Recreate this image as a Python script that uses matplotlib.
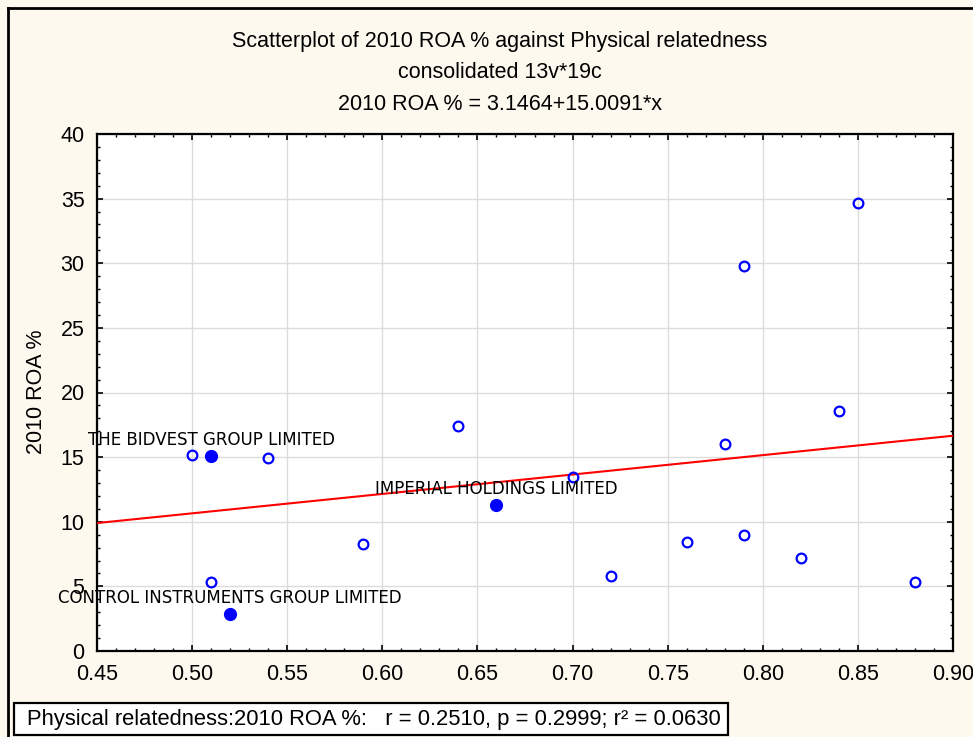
import numpy as np
import matplotlib.pyplot as plt
from matplotlib.ticker import MultipleLocator, AutoMinorLocator
from matplotlib.patches import Rectangle

# data
phys_rel = [0.50, 0.54, 0.51, 0.59, 0.64, 0.70, 0.72, 0.76, 0.78, 0.79, 0.79, 0.82, 0.84, 0.85, 0.88]
roa_2010 = [15.2, 14.9, 5.3, 8.3, 17.4, 13.5, 5.8, 8.4, 16.0, 29.8, 9.0, 7.2, 18.6, 34.7, 5.3]

# highlighted companies
comp_names = ["THE BIDVEST GROUP LIMITED", "CONTROL INSTRUMENTS GROUP LIMITED", "IMPERIAL HOLDINGS LIMITED"]
comp_x = [0.51, 0.52, 0.66]
comp_y = [15.1, 2.9, 11.3]

# regression
intercept = 3.1464
slope = 15.0091

W, H = 973, 737
bg = "#fdf9ef"
fig = plt.figure(figsize=(W / 100, H / 100), dpi=100)
fig.patch.set_facecolor(bg)

# outer frame (left and top visible)
fig.add_artist(plt.Line2D([8 / W, 8 / W], [0, 1 - 8 / H], color="black", lw=2))
fig.add_artist(plt.Line2D([8 / W, 1], [1 - 8 / H, 1 - 8 / H], color="black", lw=2))

ax = fig.add_axes([97 / W, 1 - 651 / H, 856 / W, 517 / H])
ax.set_facecolor("white")

xx = np.array([0.45, 0.90])
ax.plot(xx, intercept + slope * xx, color="red", lw=1.5, zorder=3)

ax.plot(phys_rel, roa_2010, "o", ms=7, mfc="none", mec="blue", mew=1.6, zorder=4)
ax.plot(comp_x, comp_y, "o", ms=8.5, mfc="blue", mec="blue", zorder=4)

for name, x, y in zip(comp_names, comp_x, comp_y):
    ax.annotate(name, (x, y), xytext=(0, 5), textcoords="offset points",
                ha="center", va="bottom", fontsize=12, family="DejaVu Sans", zorder=5)

ax.set_xlim(0.45, 0.90)
ax.set_ylim(0, 40)
ax.xaxis.set_major_locator(MultipleLocator(0.05))
ax.yaxis.set_major_locator(MultipleLocator(5))
ax.xaxis.set_minor_locator(AutoMinorLocator(5))
ax.yaxis.set_minor_locator(AutoMinorLocator(5))
ax.set_xticklabels([f"{v:.2f}" for v in ax.get_xticks()])
ax.grid(True, which="major", color="#dcdcdc", lw=1)
ax.set_axisbelow(True)
for s in ax.spines.values():
    s.set_linewidth(1.6)
ax.tick_params(which="both", direction="in", top=True, right=True, color="black")
ax.tick_params(which="major", length=4, width=1.2, labelsize=15.5, pad=9)
ax.tick_params(which="minor", length=2.5, width=1)
for lbl in ax.get_xticklabels() + ax.get_yticklabels():
    lbl.set_family("Liberation Sans")

title_lines = ["Scatterplot of 2010 ROA % against Physical relatedness",
               "consolidated 13v*19c",
               "2010 ROA % = 3.1464+15.0091*x"]
for t, py in zip(title_lines, [41, 73, 105]):
    fig.text(500 / W, 1 - py / H, t, ha="center", va="center", fontsize=15.5, family="Liberation Sans")

fig.text(37 / W, 1 - 392 / H, "2010 ROA %", rotation=90, ha="center", va="center",
         fontsize=15.5, family="Liberation Sans")

# stats box
fig.add_artist(Rectangle((14 / W, 1 - 735 / H), 714 / W, 32 / H, transform=fig.transFigure,
                         facecolor="white", edgecolor="black", lw=1.6))
fig.text(27 / W, 1 - 719 / H,
         "Physical relatedness:2010 ROA %:   r = 0.2510, p = 0.2999; r\u00b2 = 0.0630",
         ha="left", va="center", fontsize=15.8, family="Liberation Sans")

fig.savefig("out.png", dpi=100, facecolor=bg)
